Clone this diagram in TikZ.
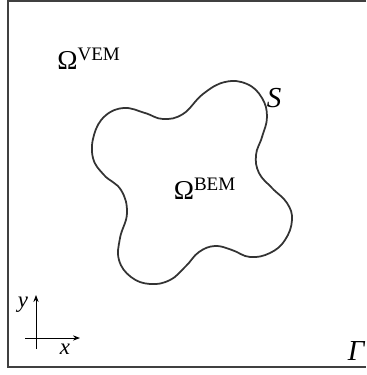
\documentclass[tikz,border=0pt]{standalone}
\usepackage{fontspec}
\setmainfont{Liberation Serif}
\usetikzlibrary{arrows.meta}

\begin{document}
\begin{tikzpicture}[
  x=0.02cm, y=-0.02cm,
  region/.style={inner sep=0pt, font=\fontsize{15.5}{17}\selectfont},
  tag/.style={inner sep=0pt, font=\fontsize{16.5}{18}\selectfont\itshape},
  axlabel/.style={inner sep=0pt, font=\fontsize{13}{14}\selectfont\itshape},
  frame/.style={line width=0.8pt, draw=black!75},
  bound/.style={line width=1pt, draw=black!80},
  axis/.style={-{Stealth[length=4pt, width=3pt]}, line width=0.5pt}
]
\useasboundingbox (0,0) rectangle (366,375);

% outer domain (right side cut off)
\draw[frame] (366,1) -- (8,1) -- (8,367) -- (366,367);

% inner boundary S
\draw[bound] plot[smooth cycle, tension=0.7] coordinates {
  (225,82) (247,84) (262,98) (267,117) (262,137) (256,155) (259,173)
  (272,188) (287,203) (292,220) (285,240) (270,253) (250,257) (232,250)
  (215,246) (199,252) (186,266) (170,280) (150,284) (131,277) (119,260)
  (120,238) (127,213) (121,190) (104,175) (93,158) (94,135)
  (105,116) (124,108) (145,113) (163,119) (183,114) (203,94)};

\node[region] (vem) at (89,59) {Ω\textsuperscript{VEM}};
\node[region] (bem) at (205,189) {Ω\textsuperscript{BEM}};
\node[tag] (surf) at (274,98) {S};
\node[tag] (gam) at (356,351) {Γ};

% axes
\coordinate (ybot) at (36,349);
\coordinate (ytop) at (36,295);
\coordinate (xleft) at (25,338);
\coordinate (xright) at (80,338);
\draw[axis] (ybot) -- (ytop);
\draw[axis] (xleft) -- (xright);
\node[axlabel] (ylab) at (23,305) {y};
\node[axlabel] (xlab) at (65,349) {x};

\end{tikzpicture}
\end{document}
